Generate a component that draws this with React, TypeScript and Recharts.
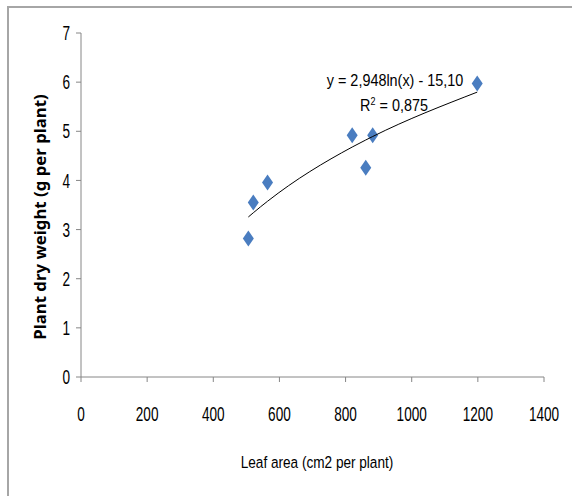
import { ScatterChart, Scatter, XAxis, YAxis, Customized } from "recharts"

const leafArea = [506, 521, 564, 820, 861, 882, 1198]
const dryWeight = [2.82, 3.55, 3.96, 4.92, 4.26, 4.92, 5.97]
const xTicks = [0, 200, 400, 600, 800, 1000, 1200, 1400]
const yTicks = [0, 1, 2, 3, 4, 5, 6, 7]
// log trendline shown on the chart: y = 2,948ln(x) - 15,10
const trendSlope = 2.948
const trendIntercept = -15.1

const points = leafArea.map((x, i) => ({ x, y: dryWeight[i] }))
const trend = [...leafArea]
  .sort((a, b) => a - b)
  .map((x) => ({ x, y: trendSlope * Math.log(x) + trendIntercept }))

const font = "'Liberation Sans', Arial, sans-serif"
const axisGray = "#868686"

// the original text is narrow and tall, so squeeze it horizontally
const XTick = ({ x, y, payload }: any) => (
  <g transform={`translate(${x},${y})`}>
    <text transform="scale(0.68,1)" textAnchor="middle" dy="0.71em" fontSize={20} fontFamily={font} fill="#000">
      {payload.value}
    </text>
  </g>
)

const YTick = ({ x, y, payload }: any) => (
  <g transform={`translate(${x},${y})`}>
    <text transform="scale(0.68,1)" textAnchor="end" dy="0.355em" fontSize={20} fontFamily={font} fill="#000">
      {payload.value}
    </text>
  </g>
)

const Diamond = (props: any) => {
  const { cx, cy } = props
  if (cx == null || cy == null) return null
  return (
    <polygon
      points={`${cx},${cy - 8} ${cx + 5.5},${cy} ${cx},${cy + 8} ${cx - 5.5},${cy}`}
      fill="#4a7dc0"
    />
  )
}

const Labels = () => (
  <g fontFamily={font} fill="#000">
    <g transform="translate(395,86) scale(0.9,1)">
      <text x={0} y={0} fontSize={16} textAnchor="middle">
        y = 2,948ln(x) - 15,10
      </text>
    </g>
    <g transform="translate(394,111) scale(0.9,1)">
      <text x={0} y={0} fontSize={16} textAnchor="middle">
        R<tspan dy={-6} fontSize={10}>2</tspan>
        <tspan dy={6}> = 0,875</tspan>
      </text>
    </g>
    <g transform="translate(317,468) scale(0.8,1)">
      <text x={0} y={0} fontSize={17} textAnchor="middle">
        Leaf area (cm2 per plant)
      </text>
    </g>
    <text
      x={39}
      y={217}
      transform="rotate(-90 39 217)"
      textAnchor="middle"
      dominantBaseline="central"
      fontFamily="'Noto Sans', sans-serif"
      fontWeight="bold"
      fontSize={16.8}
    >
      Plant dry weight (g per plant)
    </text>
  </g>
)

export default function App() {
  return (
    <div style={{ position: "absolute", left: 0, top: 0, width: 572, height: 496, background: "#fff" }}>
      <div style={{ position: "absolute", left: 7, top: 6, width: 565, height: 2, background: "#a6a6a6" }} />
      <div style={{ position: "absolute", left: 7, top: 6, width: 2, height: 490, background: "#a6a6a6" }} />
      <ScatterChart width={572} height={496} margin={{ top: 33, right: 28, left: 31, bottom: 59 }}>
        <XAxis
          type="number"
          dataKey="x"
          domain={[0, 1400]}
          ticks={xTicks}
          height={60}
          stroke={axisGray}
          tickSize={5}
          tickMargin={25}
          tick={<XTick />}
        />
        <YAxis
          type="number"
          dataKey="y"
          domain={[0, 7]}
          ticks={yTicks}
          width={50}
          stroke={axisGray}
          tickSize={5}
          tickMargin={6}
          tick={<YTick />}
        />
        <Scatter data={points} shape={<Diamond />} isAnimationActive={false} />
        <Scatter
          data={trend}
          line={{ stroke: "#000", strokeWidth: 1 }}
          lineType="joint"
          lineJointType="monotoneX"
          shape={() => <g />}
          isAnimationActive={false}
        />
        <Customized component={Labels} />
      </ScatterChart>
    </div>
  )
}
